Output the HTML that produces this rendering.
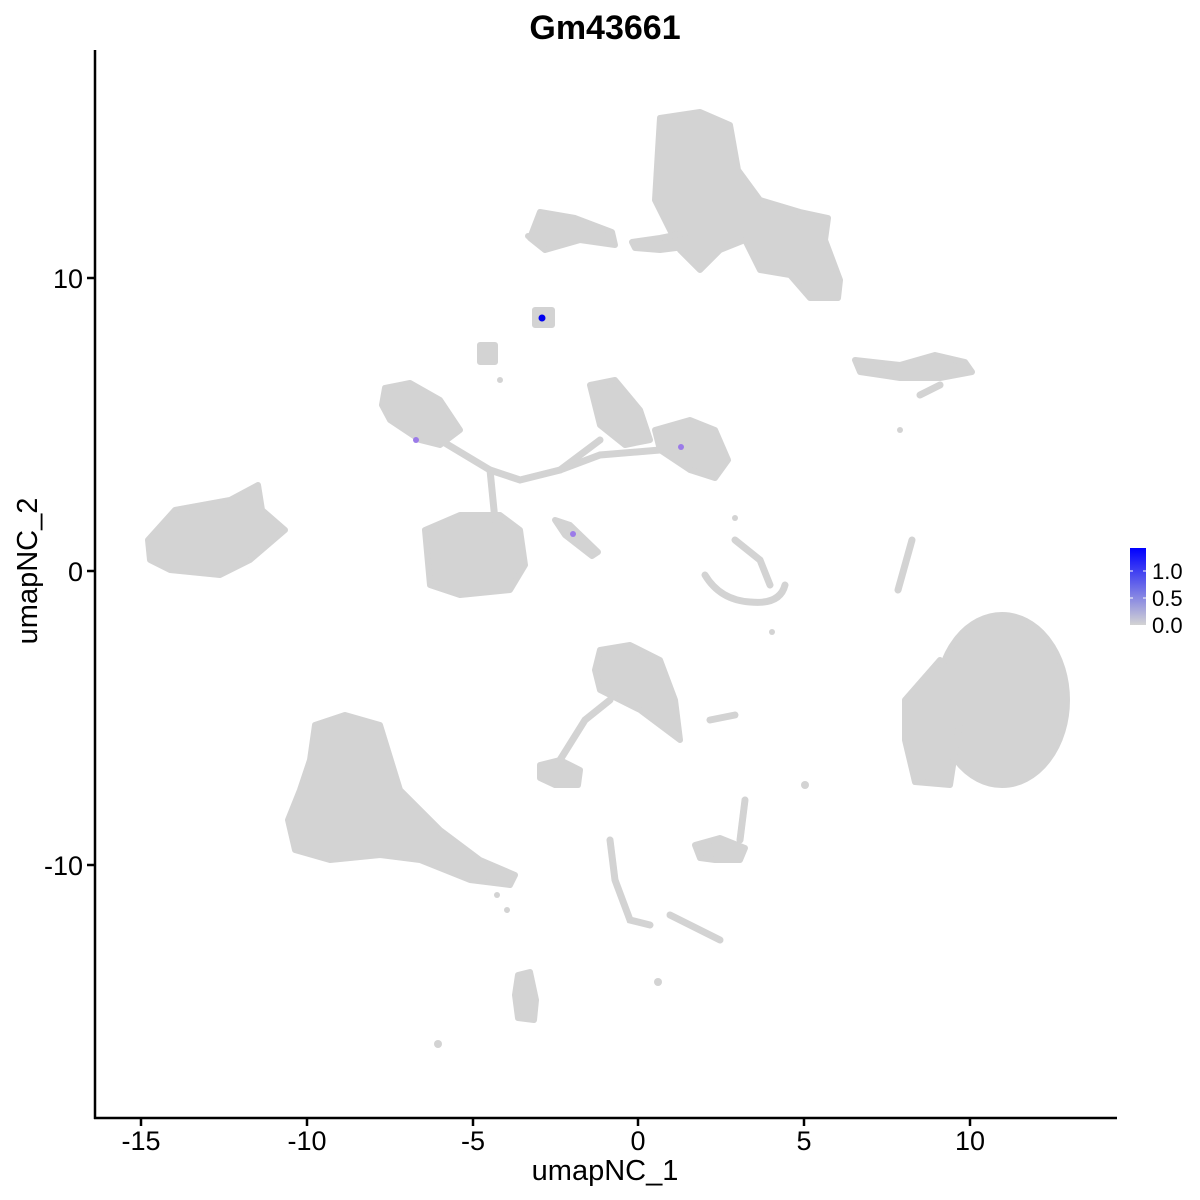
<!DOCTYPE html>
<html><head><meta charset="utf-8"><style>
html,body{margin:0;padding:0;background:#fff;}
svg{display:block;font-family:"Liberation Sans",sans-serif;}
</style></head><body>
<svg width="1200" height="1200" viewBox="0 0 1200 1200">
<rect width="1200" height="1200" fill="#fff"/>
<text x="605" y="39" font-size="34" font-weight="bold" text-anchor="middle">Gm43661</text>
<g fill="#D3D3D3" stroke="#D3D3D3" stroke-width="6" stroke-linejoin="round">
<polygon points="660,118 700,112 730,125 738,170 760,200 800,212 828,218 825,240 840,280 838,298 810,298 790,275 760,270 745,240 720,250 700,270 680,250 670,230 655,200 658,150"/>
<polygon points="632,242 660,238 690,232 700,245 660,250 635,248" />
<polygon points="540,212 575,218 612,232 615,245 580,240 545,250 530,238"/>
<polygon points="148,540 175,510 230,500 258,485 262,510 285,530 250,560 220,575 170,570 150,560"/>
<ellipse cx="1002" cy="700" rx="65" ry="85"/>
<polygon points="905,700 940,660 960,720 950,785 915,782 905,740"/>
<polygon points="315,725 345,715 380,725 400,790 440,830 480,860 515,875 510,885 470,880 420,860 380,855 330,860 295,850 288,820 300,790 310,760"/>
<polygon points="425,530 460,515 500,515 520,530 525,565 510,590 460,595 430,585"/>
<polygon points="385,388 410,383 440,400 460,430 440,445 420,440 390,420 382,405"/>
<polygon points="590,385 615,380 640,410 650,440 625,445 600,425"/>
<polygon points="655,430 690,420 715,430 728,460 715,478 690,470 660,450"/>
<polygon points="600,650 630,645 660,660 675,700 680,740 660,725 640,710 600,690 595,670"/>
<polygon points="540,765 560,760 580,770 578,785 555,785 540,778"/>
<polygon points="695,845 720,838 745,848 740,860 715,860 700,858"/>
<polygon points="855,360 900,365 935,355 965,362 972,372 940,378 900,378 860,372"/>
<polygon points="518,975 530,972 536,1000 534,1020 518,1018 515,995"/>
<polygon points="480,345 495,345 495,362 480,362"/>
<polygon points="535,310 552,310 552,325 535,325"/>
<polygon points="555,520 570,525 598,552 592,556 565,535"/>
</g>
<g fill="none" stroke="#D3D3D3" stroke-width="7" stroke-linecap="round">
<path d="M705,575 Q720,600 750,602 Q780,605 785,585"/>
<path d="M735,540 L760,560 L770,585"/>
<path d="M912,540 Q905,565 898,590"/>
<path d="M440,440 L490,470 L520,480 L560,470 L600,440"/>
<path d="M490,470 L495,520"/>
<path d="M560,470 L600,455 L660,450"/>
<path d="M610,700 L585,720 L560,760"/>
<path d="M610,840 L615,880 L630,920 L650,925"/>
<path d="M670,915 L700,930 L720,940"/>
<path d="M920,395 L940,385"/>
<path d="M745,800 L740,840"/>
<path d="M710,720 L735,715"/>
</g>
<g fill="#D3D3D3">
<circle cx="528" cy="236" r="3"/><circle cx="500" cy="380" r="3"/><circle cx="900" cy="430" r="3"/>
<circle cx="772" cy="632" r="3"/><circle cx="507" cy="910" r="3"/><circle cx="438" cy="1044" r="4"/>
<circle cx="658" cy="982" r="4"/><circle cx="805" cy="785" r="4"/><circle cx="720" cy="470" r="3"/>
<circle cx="497" cy="895" r="3"/><circle cx="735" cy="518" r="3"/><circle cx="280" cy="531" r="3"/>
</g>
<circle cx="542" cy="318" r="3.5" fill="#0000F0"/>
<circle cx="416" cy="440" r="3" fill="#9B7BE8"/>
<circle cx="681" cy="447" r="3" fill="#9B7BE8"/>
<circle cx="573" cy="534" r="3" fill="#9B7BE8"/>
<g stroke="#000" stroke-width="2.5">
<line x1="95" y1="50" x2="95" y2="1119"/>
<line x1="94" y1="1118" x2="1117" y2="1118"/>
<line x1="141" y1="1118" x2="141" y2="1126"/><line x1="307" y1="1118" x2="307" y2="1126"/>
<line x1="473" y1="1118" x2="473" y2="1126"/><line x1="638" y1="1118" x2="638" y2="1126"/>
<line x1="804" y1="1118" x2="804" y2="1126"/><line x1="970" y1="1118" x2="970" y2="1126"/>
<line x1="87" y1="278" x2="95" y2="278"/><line x1="87" y1="571" x2="95" y2="571"/>
<line x1="87" y1="865" x2="95" y2="865"/>
</g>
<g font-size="27" fill="#000" text-anchor="middle">
<text x="141" y="1150">-15</text><text x="307" y="1150">-10</text><text x="473" y="1150">-5</text>
<text x="638" y="1150">0</text><text x="804" y="1150">5</text><text x="970" y="1150">10</text>
</g>
<g font-size="27" fill="#000" text-anchor="end">
<text x="83" y="288">10</text><text x="83" y="581">0</text><text x="83" y="875">-10</text>
</g>
<text x="605" y="1180" font-size="29" text-anchor="middle">umapNC_1</text>
<text transform="translate(37,571) rotate(-90)" font-size="29" text-anchor="middle">umapNC_2</text>
<defs><linearGradient id="g" x1="0" y1="1" x2="0" y2="0">
<stop offset="0" stop-color="#D3D3D3"/><stop offset="1" stop-color="#0000FF"/></linearGradient></defs>
<rect x="1130" y="548" width="16" height="77" fill="url(#g)"/>
<g stroke="#fff" stroke-width="1"><line x1="1130" y1="571" x2="1133" y2="571"/><line x1="1143" y1="571" x2="1146" y2="571"/>
<line x1="1130" y1="598" x2="1133" y2="598"/><line x1="1143" y1="598" x2="1146" y2="598"/></g>
<g font-size="22" fill="#000"><text x="1152" y="579">1.0</text><text x="1152" y="606">0.5</text><text x="1152" y="633">0.0</text></g>
</svg>
</body></html>
